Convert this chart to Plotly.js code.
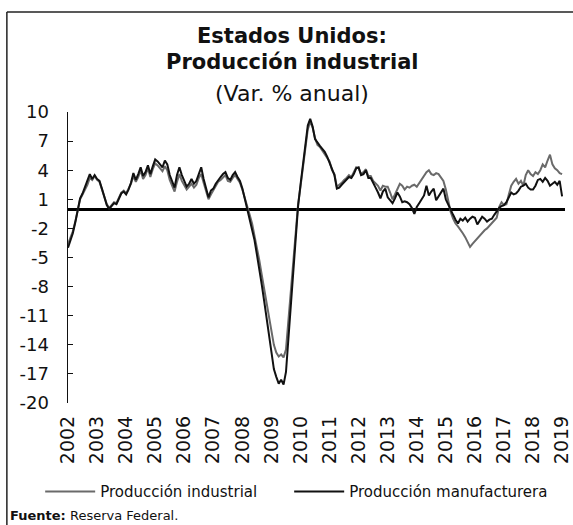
<!DOCTYPE html>
<html>
<head>
<meta charset="utf-8">
<script src="https://cdn.plot.ly/plotly-3.0.1.min.js"></script>
<style>
  html, body { margin: 0; padding: 0; background: #fff; }
  #plot { width: 573px; height: 525px; }
</style>
</head>
<body>
<div id="plot"></div>
<script>
// Monthly series, Jan 2002 - Jan 2019 (Var. % anual)
const startYear = 2002;

const indProd = [
  -3.6, -3.0, -2.3, -1.3, -0.2, 1.0, 1.5, 2.0, 2.5, 3.2, 3.0, 3.4,      // 2002
  3.0, 2.8, 2.0, 1.2, 0.5, 0.1, 0.4, 0.7, 0.6, 1.2, 1.7, 1.9,           // 2003
  1.6, 2.1, 2.6, 3.4, 2.8, 3.3, 4.0, 3.1, 3.5, 4.2, 3.3, 4.1,           // 2004
  4.7, 4.5, 4.2, 3.9, 4.4, 4.0, 3.0, 2.3, 1.8, 2.8, 3.6, 2.9,           // 2005
  2.4, 2.0, 2.3, 2.6, 2.2, 2.5, 3.2, 3.6, 2.7, 1.8, 1.0, 1.5,           // 2006
  1.9, 2.4, 2.8, 3.0, 3.3, 3.5, 2.9, 2.8, 3.2, 3.5, 3.1, 2.7,           // 2007
  2.0, 1.2, 0.3, -0.6, -1.5, -2.7, -4.0, -5.3, -6.8, -8.2, -9.8, -11.2, // 2008
  -12.8, -14.0, -14.8, -15.2, -15.0, -15.3, -14.5, -11.5, -8.0, -5.0, -2.5, 0.5, // 2009
  2.3, 4.3, 6.5, 8.2, 9.0, 8.4, 7.3, 6.6, 6.4, 6.0, 5.7, 5.2,           // 2010
  4.9, 4.0, 3.6, 2.3, 2.5, 2.7, 3.0, 3.2, 3.5, 3.3, 3.8, 4.3,           // 2011
  4.2, 3.6, 3.8, 4.1, 3.4, 3.4, 2.9, 2.6, 2.4, 1.9, 2.4, 2.3,           // 2012
  2.3, 1.7, 1.0, 1.5, 2.1, 2.6, 2.4, 2.0, 2.3, 2.2, 2.4, 2.5,           // 2013
  2.3, 2.7, 3.1, 3.4, 3.8, 4.0, 3.6, 3.5, 3.7, 3.6, 3.3, 2.9,           // 2014
  2.0, 0.8, -0.3, -1.0, -1.5, -1.8, -2.1, -2.5, -2.9, -3.4, -3.9, -3.6, // 2015
  -3.3, -3.0, -2.8, -2.5, -2.2, -2.0, -1.7, -1.5, -1.2, -0.9, 0.2, 0.7, // 2016
  0.4, 0.5, 1.5, 2.4, 2.8, 3.1, 2.6, 2.9, 2.4, 3.5, 4.0, 3.6,           // 2017
  3.4, 3.8, 3.6, 4.0, 4.6, 4.3, 5.0, 5.6, 4.6, 4.2, 4.0, 3.7,           // 2018
  3.6                                                                   // 2019
];

const manProd = [
  -4.0, -3.3, -2.5, -1.4, -0.3, 1.1, 1.6, 2.2, 2.8, 3.6, 3.1, 3.5,      // 2002
  3.1, 2.9, 2.1, 1.3, 0.4, 0.0, 0.3, 0.6, 0.5, 1.1, 1.6, 1.8,           // 2003
  1.5, 2.0, 2.7, 3.7, 3.0, 3.6, 4.3, 3.4, 3.8, 4.5, 3.6, 4.4,           // 2004
  5.1, 4.9, 4.6, 4.3, 5.0, 4.6, 3.5, 2.8, 2.2, 3.5, 4.3, 3.5,           // 2005
  2.9, 2.3, 2.6, 3.1, 2.6, 2.9, 3.6, 4.3, 3.1, 2.1, 1.2, 1.9,           // 2006
  2.1, 2.6, 3.0, 3.3, 3.6, 3.8, 3.2, 3.0, 3.5, 3.8, 3.3, 2.9,           // 2007
  2.1, 1.1, 0.1, -0.9, -1.9, -3.2, -4.7, -6.1, -7.8, -9.5, -11.3, -13.2, // 2008
  -15.0, -16.5, -17.3, -18.0, -17.6, -18.1, -16.8, -13.5, -9.5, -6.0, -3.0, 0.3, // 2009
  2.5, 4.6, 6.9, 8.6, 9.3, 8.5, 7.2, 6.8, 6.5, 6.2, 5.9, 5.4,           // 2010
  4.8, 4.2, 3.5, 2.1, 2.2, 2.5, 2.8, 3.1, 3.3, 3.2, 3.6, 4.2,           // 2011
  4.3, 3.5, 3.6, 4.0, 3.2, 3.2, 2.6, 2.2, 1.7, 1.1, 1.8, 2.1,           // 2012
  1.2, 0.9, 0.6, 1.1, 1.7, 1.3, 0.7, 0.8, 0.7, 0.5, 0.1, -0.5,          // 2013
  0.2, 0.6, 1.0, 1.4, 2.4, 1.4, 1.8, 2.1, 0.9, 1.3, 1.7, 2.1,           // 2014
  1.0, 0.4, -0.2, -0.6, -1.1, -1.5, -1.0, -1.2, -0.9, -1.3, -1.0, -0.8, // 2015
  -0.9, -1.6, -1.2, -0.8, -1.0, -1.3, -1.1, -1.0, -0.6, -0.2, 0.1, 0.3, // 2016
  0.4, 0.7, 1.2, 1.7, 1.5, 1.6, 1.9, 2.3, 2.4, 2.6, 2.2, 2.0,           // 2017
  2.0, 2.4, 3.0, 3.1, 2.8, 3.2, 2.9, 2.4, 2.6, 2.8, 2.5, 2.9,           // 2018
  1.3                                                                   // 2019
];

const years = [2002, 2003, 2004, 2005, 2006, 2007, 2008, 2009, 2010, 2011,
               2012, 2013, 2014, 2015, 2016, 2017, 2018, 2019];
const yTicks = [10, 7, 4, 1, -2, -5, -8, -11, -14, -17, -20];

// month positions as decimal years
const months = indProd.map((v, i) => startYear + i / 12);

const font = "DejaVu Sans, sans-serif";

const trace1 = {
  x: months,
  y: indProd,
  mode: 'lines',
  name: 'Producción industrial',
  legend: 'legend',
  line: {color: '#6a6a6a', width: 2}
};

const trace2 = {
  x: months,
  y: manProd,
  mode: 'lines',
  name: 'Producción manufacturera',
  legend: 'legend2',
  line: {color: '#111111', width: 2}
};

const legendFont = {family: font, size: 15, color: '#111'};

const layout = {
  width: 573,
  height: 525,
  margin: {l: 68, r: 8, t: 112, b: 122},
  paper_bgcolor: '#fff',
  plot_bgcolor: '#fff',
  font: {family: font, color: '#111', size: 14},
  showlegend: true,
  legend: {
    orientation: 'h',
    x: -0.056, xanchor: 'left',
    y: -0.305, yanchor: 'middle',
    font: legendFont,
    itemwidth: 50
  },
  legend2: {
    orientation: 'h',
    x: 0.445, xanchor: 'left',
    y: -0.305, yanchor: 'middle',
    font: legendFont,
    itemwidth: 50
  },
  xaxis: {
    range: [2002, 2019.1],
    tickvals: years,
    ticktext: years.map(String),
    tickangle: -90,
    ticks: '',
    showline: false,
    showgrid: false,
    zeroline: false,
    tickfont: {family: font, size: 19, color: '#111'},
    ticklabelstandoff: 8
  },
  yaxis: {
    range: [-20, 10],
    tickvals: yTicks,
    ticktext: yTicks.map(String),
    ticks: 'inside',
    ticklen: 5,
    tickcolor: '#111',
    showline: true,
    linecolor: '#111',
    linewidth: 1.5,
    showgrid: false,
    zeroline: true,
    zerolinecolor: '#000',
    zerolinewidth: 3,
    tickfont: {family: font, size: 18, color: '#111'},
    ticklabelstandoff: 14
  },
  shapes: [
    // frame around the figure (left and top)
    {type: 'line', xref: 'paper', yref: 'paper', x0: -0.123, x1: -0.123, y0: 1.344, y1: -0.43,
     line: {color: '#222', width: 1.5}},
    {type: 'line', xref: 'paper', yref: 'paper', x0: -0.123, x1: 1.02, y0: 1.344, y1: 1.344,
     line: {color: '#222', width: 1.5}}
  ],
  annotations: [
    {text: '<b>Estados Unidos:</b>', xref: 'paper', yref: 'paper', x: 0.451, y: 1.262,
     yanchor: 'middle', showarrow: false, font: {family: font, size: 21, color: '#111'}},
    {text: '<b>Producción industrial</b>', xref: 'paper', yref: 'paper', x: 0.451, y: 1.172,
     yanchor: 'middle', showarrow: false, font: {family: font, size: 21, color: '#111'}},
    {text: '(Var. % anual)', xref: 'paper', yref: 'paper', x: 0.451, y: 1.065,
     yanchor: 'middle', showarrow: false, font: {family: font, size: 22, color: '#111'}},
    {text: '<b>Fuente:</b> Reserva Federal.', xref: 'paper', yref: 'paper', x: -0.12, y: -0.388,
     xanchor: 'left', yanchor: 'middle', showarrow: false, font: {family: font, size: 13, color: '#111'}}
  ]
};

Plotly.newPlot('plot', [trace1, trace2], layout, {displayModeBar: false, staticPlot: true});
</script>
</body>
</html>
